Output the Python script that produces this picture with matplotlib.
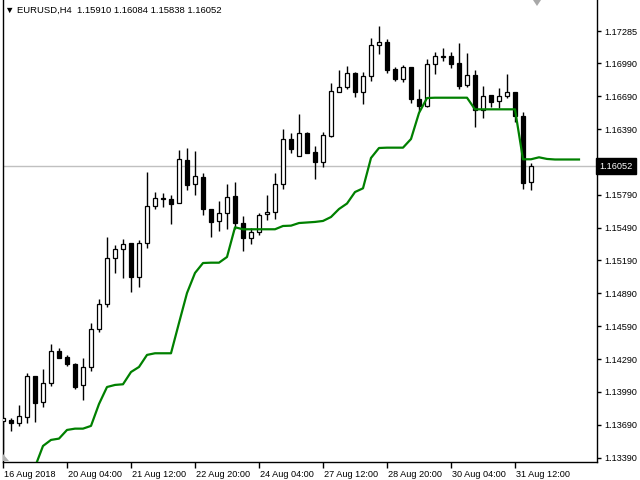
import matplotlib
matplotlib.use('Agg')
import matplotlib.pyplot as plt
import matplotlib.transforms as mtransforms
from matplotlib.patches import Polygon
import numpy as np

plt.rcParams['font.family'] = ['Liberation Sans', 'DejaVu Sans']

# EURUSD H4 candles (open, high, low, close), oldest first
opens = [1.13725, 1.13734, 1.13704, 1.13764, 1.14136, 1.13896, 1.14075, 1.14364, 1.14307, 1.14245,
         1.14051, 1.14215, 1.14562, 1.14790, 1.15210, 1.15292, 1.15350, 1.15037, 1.15347, 1.15685,
         1.15761, 1.15752, 1.15712, 1.16108, 1.15886, 1.15952, 1.15660, 1.15548, 1.15621, 1.15779,
         1.15530, 1.15393, 1.15448, 1.15612, 1.15630, 1.15886, 1.16296, 1.16141, 1.16351, 1.16178,
         1.16087, 1.16329, 1.16725, 1.16771, 1.16899, 1.16725, 1.16872, 1.17155, 1.17182, 1.16935,
         1.16850, 1.16954, 1.16662, 1.16600, 1.16984, 1.17050, 1.17054, 1.16993, 1.16789, 1.16883,
         1.16564, 1.16698, 1.16643, 1.16689, 1.16728, 1.16509, 1.15910]
highs = [1.13762, 1.13750, 1.13871, 1.14161, 1.14136, 1.14200, 1.14428, 1.14391, 1.14325, 1.14257,
         1.14300, 1.14617, 1.14839, 1.15405, 1.15332, 1.15384, 1.15350, 1.15375, 1.16001, 1.15815,
         1.15806, 1.15788, 1.16199, 1.16217, 1.16190, 1.15992, 1.15660, 1.15736, 1.15891, 1.15907,
         1.15599, 1.15490, 1.15627, 1.15785, 1.15992, 1.16388, 1.16351, 1.16527, 1.16360, 1.16235,
         1.16360, 1.16808, 1.16929, 1.16966, 1.16914, 1.16914, 1.17218, 1.17331, 1.17209, 1.16959,
         1.16977, 1.16954, 1.16753, 1.17027, 1.17091, 1.17127, 1.17093, 1.17173, 1.17082, 1.16926,
         1.16783, 1.16698, 1.16765, 1.16893, 1.16728, 1.16548, 1.16084]
lows = [1.13442, 1.13637, 1.13680, 1.13710, 1.13719, 1.13856, 1.14047, 1.14303, 1.14230, 1.14020,
        1.13917, 1.14184, 1.14540, 1.14768, 1.15079, 1.15033, 1.14900, 1.14951, 1.15307, 1.15656,
        1.15681, 1.15519, 1.15712, 1.15834, 1.15791, 1.15608, 1.15407, 1.15462, 1.15480, 1.15480,
        1.15280, 1.15338, 1.15423, 1.15560, 1.15566, 1.15840, 1.16169, 1.16141, 1.16169, 1.15931,
        1.16041, 1.16320, 1.16725, 1.16758, 1.16685, 1.16616, 1.16831, 1.17075, 1.16899, 1.16831,
        1.16822, 1.16631, 1.16558, 1.16589, 1.16890, 1.17014, 1.16945, 1.16758, 1.16777, 1.16412,
        1.16488, 1.16594, 1.16585, 1.16676, 1.16457, 1.15840, 1.15838]
closes = [1.13753, 1.13704, 1.13768, 1.14136, 1.13892, 1.14069, 1.14364, 1.14303, 1.14243, 1.14038,
          1.14215, 1.14562, 1.14790, 1.15210, 1.15292, 1.15341, 1.15042, 1.15350, 1.15688, 1.15758,
          1.15747, 1.15709, 1.16114, 1.15882, 1.15962, 1.15658, 1.15544, 1.15621, 1.15767, 1.15530,
          1.15393, 1.15448, 1.15608, 1.15633, 1.15888, 1.16296, 1.16205, 1.16351, 1.16169, 1.16087,
          1.16333, 1.16737, 1.16771, 1.16899, 1.16725, 1.16872, 1.17155, 1.17182, 1.16932, 1.16850,
          1.16954, 1.16662, 1.16600, 1.16984, 1.17054, 1.17060, 1.16981, 1.16783, 1.16883, 1.16564,
          1.16692, 1.16640, 1.16692, 1.16728, 1.16512, 1.15900, 1.16052]

# green indicator line, starts at bar 4, runs 6 bars past the last candle
line_start = 4
line_vals = [1.13305, 1.13497, 1.13552, 1.13564, 1.13643, 1.13655, 1.13655, 1.13680, 1.13880, 1.14035,
             1.14054, 1.14060, 1.14172, 1.14218, 1.14328, 1.14343, 1.14343, 1.14343, 1.14620, 1.14893,
             1.15076, 1.15167, 1.15170, 1.15170, 1.15222, 1.15493, 1.15475, 1.15475, 1.15475, 1.15475,
             1.15475, 1.15505, 1.15508, 1.15532, 1.15537, 1.15542, 1.15551, 1.15587, 1.15660, 1.15710,
             1.15815, 1.15849, 1.16126, 1.16217, 1.16220, 1.16220, 1.16220, 1.16299, 1.16537, 1.16673,
             1.16676, 1.16676, 1.16676, 1.16676, 1.16676, 1.16570, 1.16570, 1.16570, 1.16570, 1.16570,
             1.16570, 1.16114, 1.16114, 1.16132, 1.16117, 1.16112, 1.16112, 1.16112, 1.16112]

price_ticks = [1.13390, 1.13690, 1.13990, 1.14290, 1.14590, 1.14890, 1.15190, 1.15490,
               1.15790, 1.16090, 1.16390, 1.16690, 1.16990, 1.17285]
date_ticks = [0, 8, 16, 24, 32, 40, 48, 56, 64]
date_labels = ['16 Aug 2018', '20 Aug 04:00', '21 Aug 12:00', '22 Aug 20:00', '24 Aug 04:00',
               '27 Aug 12:00', '28 Aug 20:00', '30 Aug 04:00', '31 Aug 12:00']

title = '\u25bc EURUSD,H4  1.15910 1.16084 1.15838 1.16052'

o = np.array(opens)
h = np.array(highs)
l = np.array(lows)
c = np.array(closes)
idx = np.arange(len(o))

fig = plt.figure(figsize=(6.4, 4.8), dpi=100)
ax = fig.add_axes([2.5/640, 18.5/480, 594.5/640, 461.5/480])

# current price line
ax.axhline(c[-1], color='#c0c0c0', lw=1, zorder=1)

# wicks then bodies
ax.vlines(idx, l, h, color='black', lw=1, zorder=2)
body_col = ['white' if cc >= oo else 'black' for oo, cc in zip(o, c)]
ax.bar(idx, np.abs(c - o), bottom=np.minimum(o, c), width=0.62,
       color=body_col, edgecolor='black', linewidth=0.9, zorder=3)

lx = np.arange(line_start, line_start + len(line_vals))
ax.plot(lx, line_vals, color='#008000', lw=1.6, zorder=4)

ax.set_xlim(-0.0625, 74.25)
ax.set_ylim(1.13355, 1.17568)

ax.spines['top'].set_visible(False)
for s in ['left', 'right', 'bottom']:
    ax.spines[s].set_linewidth(1)

ax.yaxis.tick_right()
ax.set_yticks(price_ticks)
ax.set_yticklabels(['%.5f' % p for p in price_ticks])
ax.tick_params(axis='y', direction='out', length=3, pad=2, labelsize=6.6, width=1)
ax.set_xticks(date_ticks)
ax.set_xticklabels(date_labels)
ax.tick_params(axis='x', direction='out', length=4, pad=2, labelsize=6.6, width=1)
offset = mtransforms.ScaledTranslation(1/100, 0, fig.dpi_scale_trans)
for lab in ax.get_xticklabels():
    lab.set_horizontalalignment('left')
    lab.set_transform(lab.get_transform() + offset)

# last price tag
trans = mtransforms.blended_transform_factory(ax.transAxes, ax.transData)
ax.text(1.004, c[-1], '%.5f' % c[-1], transform=trans, color='white', fontsize=6.6,
        va='center', ha='left', zorder=10, clip_on=False,
        bbox=dict(boxstyle='square,pad=0.35', fc='black', ec='black'))

# small grey markers of the terminal
fig.patches.append(Polygon([[533/640, 1.0], [541/640, 1.0], [537/640, 474/480]], closed=True,
                           transform=fig.transFigure, fc='#a8a8a8', ec='none'))
fig.patches.append(Polygon([[3/640, 26/480], [3/640, 19/480], [9/640, 19/480]], closed=True,
                           transform=fig.transFigure, fc='#b0b0b0', ec='none'))

fig.text(5/640, 1 - 10/480, title, fontsize=6.8, va='center', ha='left')

fig.savefig('out.png', dpi=100)
